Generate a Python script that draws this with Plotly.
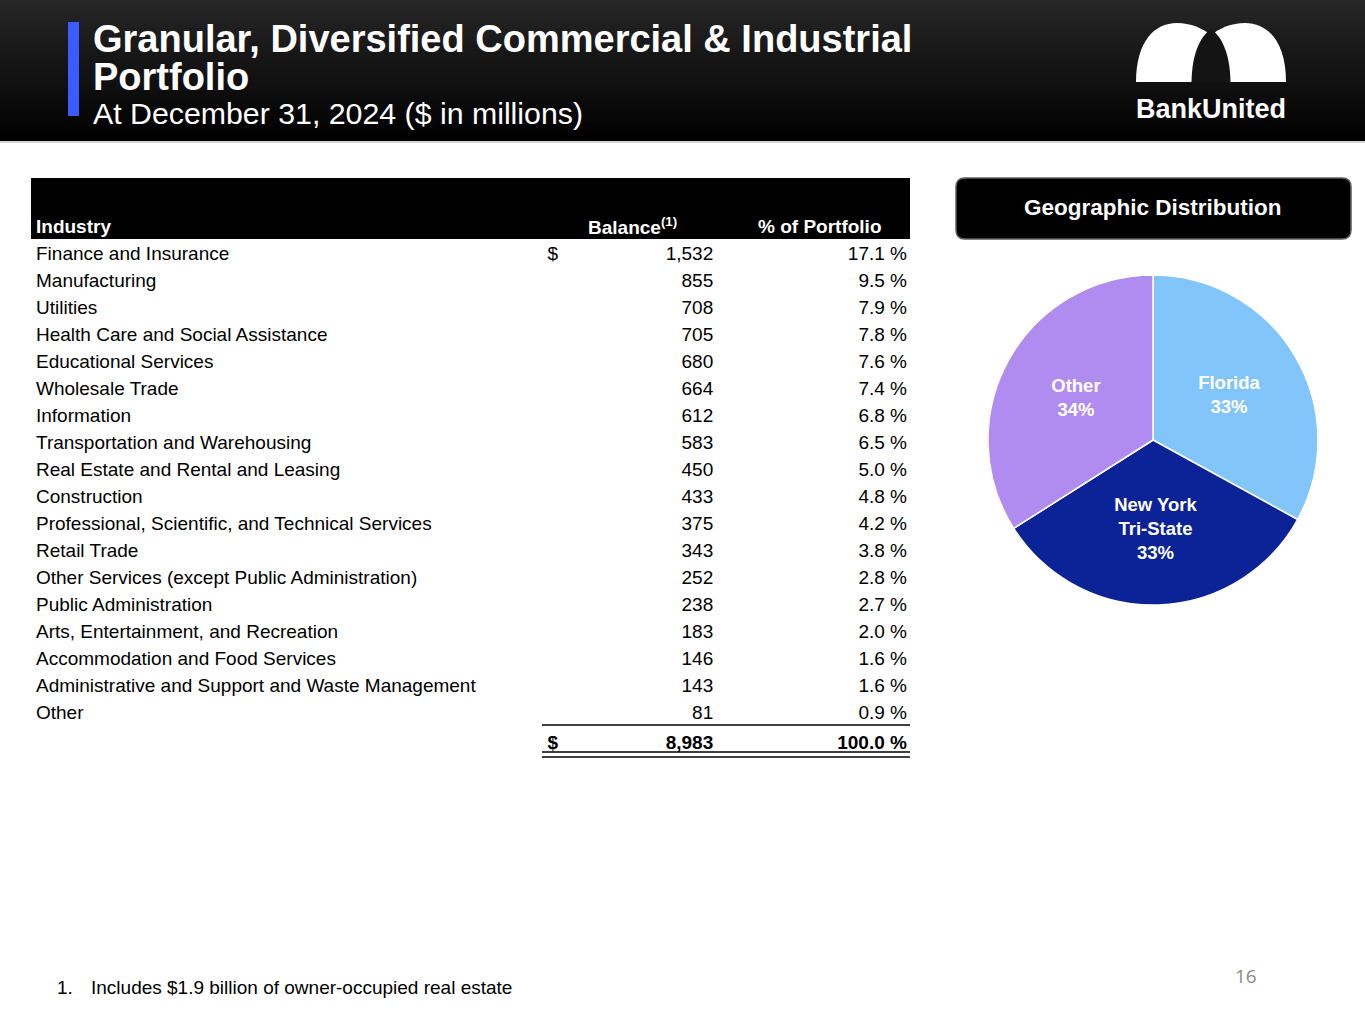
import plotly.graph_objects as go

# ---------------- data ----------------
industries = [
    "Finance and Insurance", "Manufacturing", "Utilities",
    "Health Care and Social Assistance", "Educational Services", "Wholesale Trade",
    "Information", "Transportation and Warehousing", "Real Estate and Rental and Leasing",
    "Construction", "Professional, Scientific, and Technical Services", "Retail Trade",
    "Other Services (except Public Administration)", "Public Administration",
    "Arts, Entertainment, and Recreation", "Accommodation and Food Services",
    "Administrative and Support and Waste Management", "Other",
]
balances = [1532, 855, 708, 705, 680, 664, 612, 583, 450, 433, 375, 343, 252, 238, 183, 146, 143, 81]
pct_of_portfolio = [17.1, 9.5, 7.9, 7.8, 7.6, 7.4, 6.8, 6.5, 5.0, 4.8, 4.2, 3.8, 2.8, 2.7, 2.0, 1.6, 1.6, 0.9]
total_balance = 8983
total_pct = 100.0
header_labels = ["Industry", "Balance<sup>(1)</sup>", "% of Portfolio"]

regions = ["Florida", "New York<br>Tri-State", "Other"]
region_share = [33, 33, 34]
region_colors = ["#82C5FA", "#0B2396", "#B08CF1"]

title_line1 = "Granular, Diversified Commercial & Industrial"
title_line2 = "Portfolio"
subtitle = "At December 31, 2024 ($ in millions)"
footnote = "Includes $1.9 billion of owner-occupied real estate"
page_no = "16"

# ---------------- helpers ----------------
W, H = 1365, 1024
def px(x): return x / W
def py(y): return 1 - y / H

FONT = "Arial, Liberation Sans, sans-serif"

fig = go.Figure()

# ---------------- table ----------------
n = len(industries)
col0 = industries + [" "]
col1 = ["$"] + [" "] * (n - 1) + ["<b>$</b>"]
col2 = [f"{b:,}" for b in balances] + [f"<b>{total_balance:,}</b>"]
col3 = [f"{p:.1f} %" for p in pct_of_portfolio] + [f"<b>{total_pct:.1f} %</b>"]

tx0, tx1 = 28, 916
colw = [540 - 28, 580 - 540, 722 - 580, 916 - 722]
fig.add_trace(go.Table(
    domain=dict(x=[px(tx0), px(tx1)], y=[py(830), py(222)]),
    columnwidth=colw,
    columnorder=[0, 1, 2, 3],
    header=dict(values=[],
                fill=dict(color="rgba(0,0,0,0)"),
                line=dict(color="rgba(0,0,0,0)", width=0)),
    cells=dict(
        values=[col0, col1, col2, col3],
        align=["left", "left", "right", "right"],
        fill=dict(color="rgba(0,0,0,0)"),
        line=dict(color="rgba(0,0,0,0)", width=0),
        font=dict(family=FONT, size=19, color="black"),
        height=27,
    ),
))

# ---------------- pie ----------------
cx, cy, r = 1153, 440, 165
fig.add_trace(go.Pie(
    labels=regions,
    values=region_share,
    sort=False,
    direction="clockwise",
    rotation=0,
    marker=dict(colors=region_colors, line=dict(color="white", width=1.5)),
    texttemplate="%{label}<br>%{value}%",
    textposition="inside",
    insidetextorientation="horizontal",
    textfont=dict(family=FONT, size=18.5, color="white", weight="bold"),
    domain=dict(x=[px(cx - r), px(cx + r)], y=[py(cy + r), py(cy - r)]),
    showlegend=False,
    hoverinfo="skip",
))

# ---------------- shapes ----------------
shapes = []
# header gradient: each band runs to the bottom of the header, so no seams
nb = 40
band_h = 141 / nb
for i in range(nb):
    t = i / (nb - 1)
    c = int(round(38 * (1 - t)))
    shapes.append(dict(type="rect", xref="paper", yref="paper", layer="below",
                       x0=0, x1=1, y0=py(141), y1=py(i * band_h),
                       fillcolor=f"rgb({c},{c},{c})", line=dict(width=0)))
shapes.append(dict(type="line", xref="paper", yref="paper", x0=0, x1=1,
                   y0=py(142), y1=py(142), line=dict(color="#d4d4d4", width=2)))
# blue accent bar
shapes.append(dict(type="rect", xref="paper", yref="paper", x0=px(68), x1=px(79),
                   y0=py(116), y1=py(22), fillcolor="#3A5CFB", line=dict(width=0)))
# logo arches
def P(x, y): return f"{px(x)},{py(y)}"
left_arch = (f"M{P(1136,82)} C{P(1136,42)} {P(1154,23)} {P(1177,23)} "
             f"C{P(1203,23)} {P(1230,42)} {P(1231,82)} Z")
right_arch = (f"M{P(1286,82)} C{P(1286,42)} {P(1268,23)} {P(1245,23)} "
              f"C{P(1219,23)} {P(1192,42)} {P(1191,82)} Z")
lens = (f"M{P(1191.5,82)} C{P(1192,52)} {P(1201,36)} {P(1211,29)} "
        f"C{P(1221,36)} {P(1230,52)} {P(1230.5,82)} Z")
for pth, col in [(left_arch, "white"), (right_arch, "white"), (lens, "#141414")]:
    shapes.append(dict(type="path", xref="paper", yref="paper", path=pth,
                       fillcolor=col, line=dict(width=0)))
# table header black band
shapes.append(dict(type="rect", xref="paper", yref="paper", layer="below",
                   x0=px(31), x1=px(910), y0=py(239), y1=py(178),
                   fillcolor="black", line=dict(width=0)))
# total row rules
for yy in (725, 752, 757):
    shapes.append(dict(type="line", xref="paper", yref="paper",
                       x0=px(542), x1=px(910), y0=py(yy), y1=py(yy),
                       line=dict(color="black", width=1.7)))
# geographic distribution box (rounded)
bx0, bx1, by0, by1, rr = 956, 1351, 178, 239, 9
box = (f"M{P(bx0+rr,by0)} L{P(bx1-rr,by0)} Q{P(bx1,by0)} {P(bx1,by0+rr)} "
       f"L{P(bx1,by1-rr)} Q{P(bx1,by1)} {P(bx1-rr,by1)} L{P(bx0+rr,by1)} "
       f"Q{P(bx0,by1)} {P(bx0,by1-rr)} L{P(bx0,by0+rr)} Q{P(bx0,by0)} {P(bx0+rr,by0)} Z")
shapes.append(dict(type="path", xref="paper", yref="paper", path=box,
                   fillcolor="black", line=dict(color="#5e5e5e", width=1.5)))

# ---------------- annotations ----------------
ann = []
def txt(x, y, s, size, color="white", bold=False, anchor="left", family=FONT, yanchor="middle"):
    ann.append(dict(x=px(x), y=py(y), xref="paper", yref="paper", text=s,
                    showarrow=False, xanchor=anchor, yanchor=yanchor,
                    font=dict(family=family, size=size, color=color,
                              weight="bold" if bold else "normal")))

txt(91, 39, title_line1, 38, bold=True)
txt(91, 77, title_line2, 38, bold=True)
txt(91, 113, subtitle, 30.3)
txt(1211, 109, "BankUnited", 27, bold=True, anchor="center")
txt(1153, 207, "Geographic Distribution", 22.5, bold=True, anchor="center")
# table column headings (in the black band)
txt(34, 226, header_labels[0], 19, bold=True)
txt(586, 239.5, header_labels[1], 19, bold=True, yanchor="bottom")
txt(819.5, 226, header_labels[2], 19, bold=True, anchor="center")
txt(55, 987, "1.", 19, color="black")
txt(89, 987, footnote, 19, color="black")
txt(1246, 976, page_no, 19, color="#8a8a8a", anchor="center", family="Open Sans, Noto Sans, sans-serif")

fig.update_layout(
    width=W, height=H,
    margin=dict(l=0, r=0, t=0, b=0),
    paper_bgcolor="white", plot_bgcolor="white",
    shapes=shapes, annotations=ann,
    showlegend=False,
)

fig.write_html("out.html", config={"displayModeBar": False},
               post_script="document.body.style.margin='0';document.body.style.overflow='hidden';")
